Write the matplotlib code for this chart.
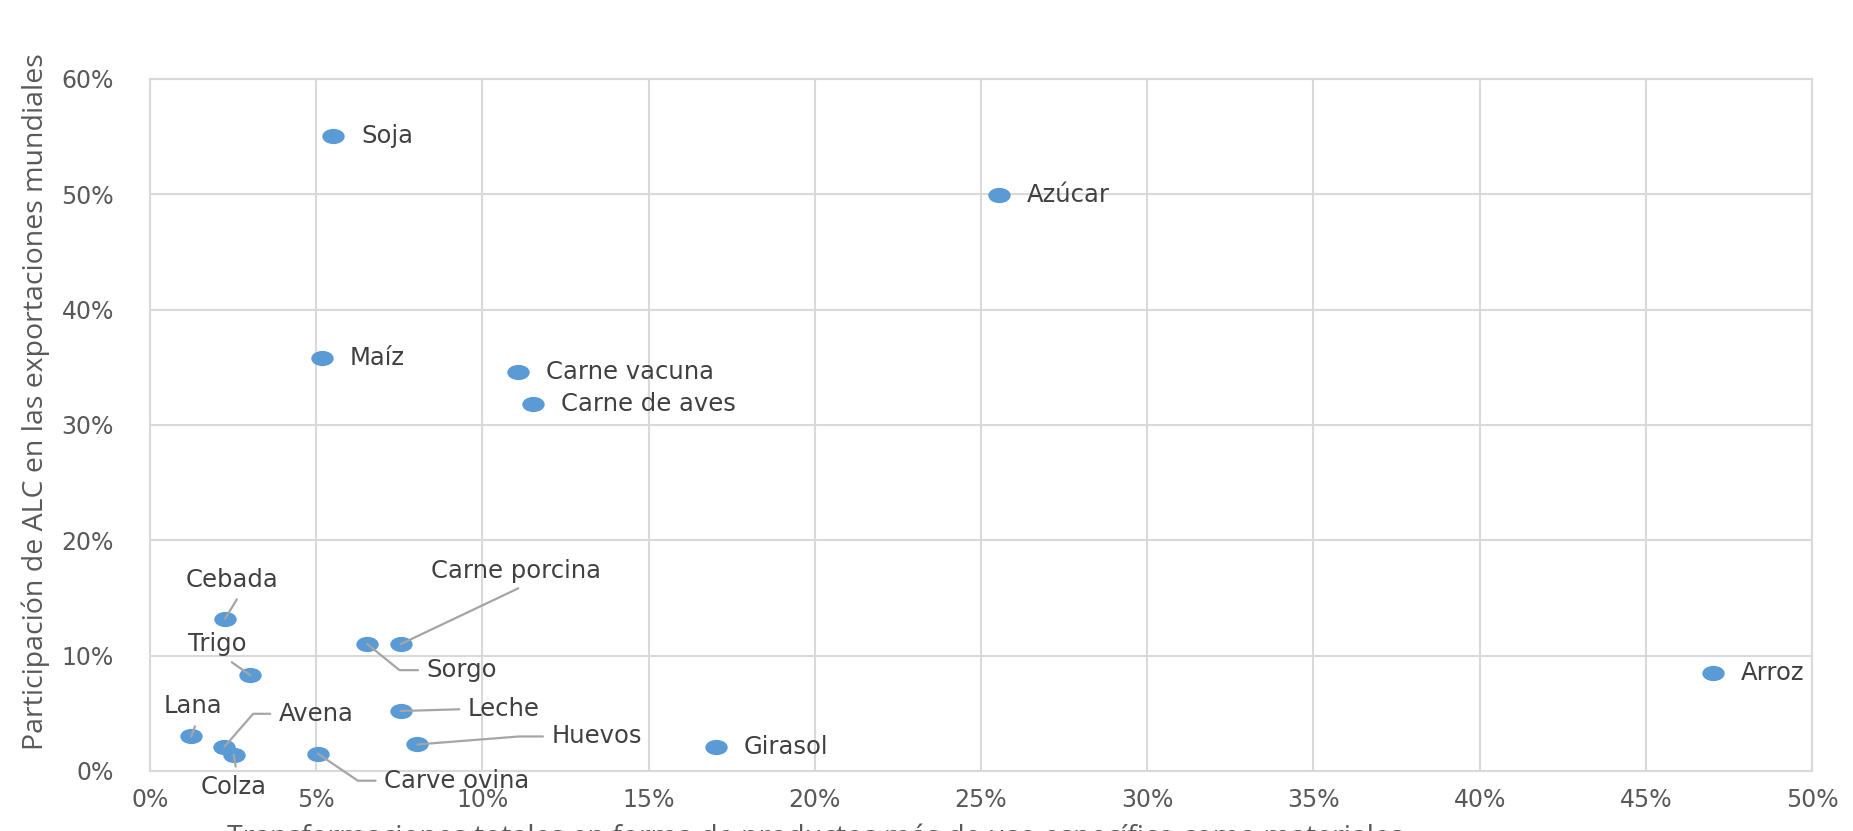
import numpy as np
import matplotlib
matplotlib.use('Agg')
from matplotlib import pyplot as plt
from matplotlib.path import Path
from matplotlib.ticker import PercentFormatter

# data (fractions)
productos = ['Soja', 'Azúcar', 'Maíz', 'Carne vacuna', 'Carne de aves', 'Cebada',
             'Carne porcina', 'Sorgo', 'Trigo', 'Leche', 'Lana', 'Avena', 'Huevos',
             'Girasol', 'Arroz', 'Colza', 'Carve ovina']
transformacion = [0.0551, 0.2553, 0.0516, 0.1106, 0.1152, 0.0226,
                  0.0754, 0.0654, 0.0302, 0.0754, 0.0124, 0.0224, 0.0804,
                  0.1703, 0.4701, 0.0252, 0.0505]
participacion = [0.551, 0.499, 0.358, 0.346, 0.318, 0.132,
                 0.110, 0.110, 0.083, 0.052, 0.030, 0.021, 0.023,
                 0.021, 0.085, 0.014, 0.015]

x_ticks = np.arange(0, 0.51, 0.05)
y_ticks = np.arange(0, 0.61, 0.10)

blue = '#5B9BD5'
grid_c = '#D9D9D9'
tick_c = '#595959'
text_c = '#404040'
line_c = '#A5A5A5'
lab_font = 'Open Sans'
mark_font = 'DejaVu Sans'

plt.rcParams['font.family'] = mark_font

fig = plt.figure(figsize=(18.53, 8.31), dpi=100)
ax = fig.add_axes([150/1853, 1 - 771/831, (1812-150)/1853, (771-79)/831])

# elliptical marker like the original
ell = Path.unit_circle().transformed(matplotlib.transforms.Affine2D().scale(1, 0.68))
ax.scatter(transformacion, participacion, marker=ell, s=260, color=blue,
           linewidths=0, zorder=3, clip_on=False)

ax.set_xlim(0, 0.5)
ax.set_ylim(0, 0.6)
ax.set_xticks(x_ticks)
ax.set_yticks(y_ticks)
ax.xaxis.set_major_formatter(PercentFormatter(1, decimals=0))
ax.yaxis.set_major_formatter(PercentFormatter(1, decimals=0))
ax.tick_params(length=0, labelsize=17, colors=tick_c)
ax.tick_params(axis='y', pad=26)
ax.tick_params(axis='x', pad=12)
ax.grid(True, color=grid_c, linewidth=1.5)
ax.set_axisbelow(True)
for s in ax.spines.values():
    s.set_color(grid_c)
    s.set_linewidth(1.5)

# axis titles
fig.text(36/1853, 1 - 402/831, 'Participación de ALC en las exportaciones mundiales',
         rotation=90, fontsize=20.5, color=tick_c, ha='center', va='center', family=lab_font)
fig.text(815/1853, 1 - 823/831, 'Transformaciones totales en forma de productos más de uso específico como materiales',
         fontsize=20.5, color=tick_c, ha='center', va='top', family=lab_font)

# label layout: offset in pixels (dx, dy), alignment, leader line settings
simple = dict(dx=28, dy=0, ha='left', va='center')
layout = {
    'Soja': simple, 'Azúcar': simple, 'Maíz': simple, 'Carne vacuna': simple,
    'Carne de aves': simple, 'Girasol': simple, 'Arroz': simple,
    'Cebada': dict(dx=7, dy=39, ha='center', va='center', rel=(0.6, 0.0), conn='arc3'),
    'Carne porcina': dict(dx=115, dy=73, ha='center', va='center', rel=(0.58, 0.0), conn='arc3'),
    'Trigo': dict(dx=-33, dy=31, ha='center', va='center', rel=(0.6, 0.0), conn='arc3'),
    'Lana': dict(dx=2, dy=30, ha='center', va='center', rel=(0.58, 0.0), conn='arc3'),
    'Colza': dict(dx=0, dy=-32, ha='center', va='center', rel=(0.55, 1.0), conn='arc3'),
    'Sorgo': dict(dx=59, dy=-26, ha='left', va='center', rel=(0.0, 0.5),
                  conn='angle,angleA=0,angleB=-39,rad=0'),
    'Leche': dict(dx=67, dy=2, ha='left', va='center', rel=(0.0, 0.5), conn='arc3'),
    'Avena': dict(dx=54, dy=33, ha='left', va='center', rel=(0.0, 0.5),
                  conn='angle,angleA=0,angleB=49,rad=0'),
    'Huevos': dict(dx=134, dy=8, ha='left', va='center', rel=(0.0, 0.5),
                   conn='angle,angleA=0,angleB=4.5,rad=0'),
    'Carve ovina': dict(dx=66, dy=-27, ha='left', va='center', rel=(0.0, 0.5),
                        conn='angle,angleA=0,angleB=-34,rad=0'),
}

for name, xv, yv in zip(productos, transformacion, participacion):
    L = layout[name]
    kw = dict(textcoords='offset pixels', ha=L['ha'], va=L['va'],
              fontsize=17.5, color=text_c, zorder=4, annotation_clip=False)
    if 'conn' in L:
        kw['arrowprops'] = dict(arrowstyle='-', color=line_c, lw=1.6,
                                shrinkA=4, shrinkB=0, relpos=L['rel'],
                                connectionstyle=L['conn'])
    ax.annotate(name, (xv, yv), xytext=(L['dx'], L['dy']), **kw)

plt.savefig('out.png', dpi=100)
